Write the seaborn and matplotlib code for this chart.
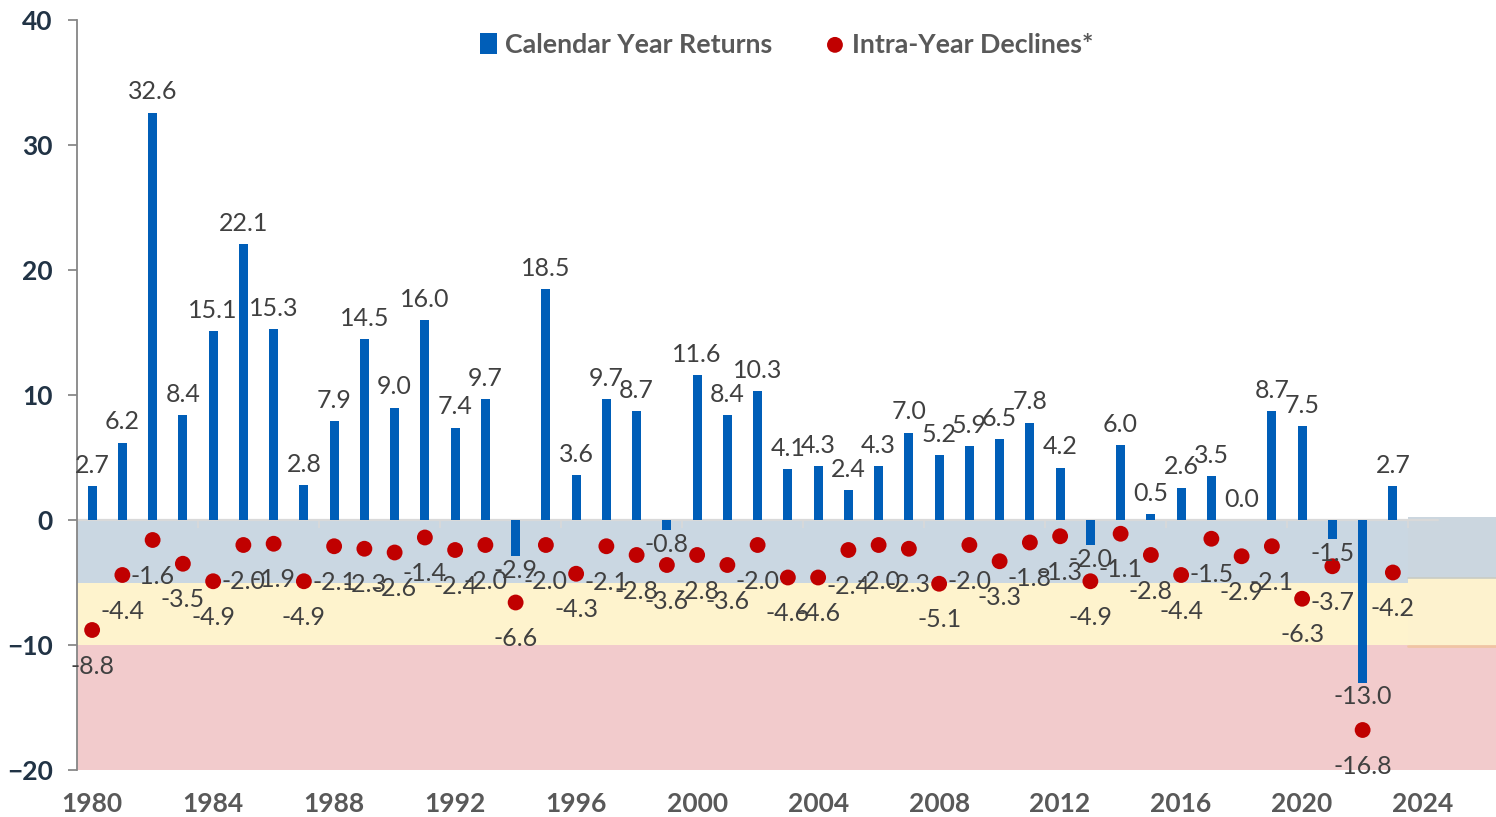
import numpy as np
import seaborn as sns
import matplotlib.pyplot as plt

# calendar year returns vs intra-year declines (%)
years = list(range(1980, 2024))
returns = [2.7, 6.2, 32.6, 8.4, 15.1, 22.1, 15.3, 2.8, 7.9, 14.5, 9.0, 16.0,
           7.4, 9.7, -2.9, 18.5, 3.6, 9.7, 8.7, -0.8, 11.6, 8.4, 10.3, 4.1,
           4.3, 2.4, 4.3, 7.0, 5.2, 5.9, 6.5, 7.8, 4.2, -2.0, 6.0, 0.5,
           2.6, 3.5, 0.0, 8.7, 7.5, -1.5, -13.0, 2.7]
declines = [-8.8, -4.4, -1.6, -3.5, -4.9, -2.0, -1.9, -4.9, -2.1, -2.3, -2.6, -1.4,
            -2.4, -2.0, -6.6, -2.0, -4.3, -2.1, -2.8, -3.6, -2.8, -3.6, -2.0, -4.6,
            -4.6, -2.4, -2.0, -2.3, -5.1, -2.0, -3.3, -1.8, -1.3, -4.9, -1.1, -2.8,
            -4.4, -1.5, -2.9, -2.1, -6.3, -3.7, -16.8, -4.2]
year_ticks = list(range(1980, 2025, 4))
y_ticks = list(range(-20, 41, 10))

# shaded zones (upper, lower)
zones = [(0, -5, '#CAD7E2'), (-5, -10, '#FEF3CD'), (-10, -20, '#F2CBCC')]
zones_right = [(0.25, -4.6, '#CBD6DF'), (-4.6, -10.1, '#FDF2CE'), (-10.1, -20, '#F2CBCC')]

BLUE = '#005EB8'
RED = '#C00000'

sns.set_style('white')
plt.rcParams['font.family'] = ['Lato', 'DejaVu Sans']

fig = plt.figure(figsize=(14.96, 8.17), dpi=100)
ax = fig.add_axes([77 / 1496, 47 / 817, 1419 / 1496, 750 / 817])

x_left = years[0] - 0.5
x_right = x_left + 1419 / 30.25
x_split = years[-1] + 0.5

for top, bottom, c in zones:
    ax.fill_between([x_left, x_split], bottom, top, color=c, lw=0, zorder=0)
for top, bottom, c in zones_right:
    ax.fill_between([x_split, x_right], bottom, top, color=c, lw=0, zorder=0)
ax.axhline(-4.6, xmin=(x_split - x_left) / (x_right - x_left), color='#C9CCC4', lw=1.2, zorder=0.5)
ax.axhline(-10.1, xmin=(x_split - x_left) / (x_right - x_left), color='#F0C4A4', lw=2, zorder=0.5)

# category axis line at zero
ax.axhline(0, xmax=(x_split + 1 - x_left) / (x_right - x_left), color='#D9D9D9', lw=1.6, zorder=1)
ax.vlines(np.arange(years[0] + 3.5, x_split + 1, 4), 0, -0.65, color='#D9D9D9', lw=1.2, zorder=1)

sns.barplot(x=years, y=returns, native_scale=True, width=0.3, color=BLUE,
            saturation=1, linewidth=0, ax=ax, label='Calendar Year Returns', zorder=2)
sns.scatterplot(x=years, y=declines, color=RED, s=130, edgecolor='none',
                ax=ax, label='Intra-Year Declines*', zorder=3)

lbl = dict(fontsize=18, color='#404040', ha='center', textcoords='offset points', zorder=4)
for yr, v in zip(years, returns):
    if v >= 0:
        ax.annotate(f'{v:.1f}', (yr, v), xytext=(0, 9.5), va='baseline', **lbl)
    else:
        ax.annotate(f'{v:.1f}', (yr, v), xytext=(0, -2), va='top', **lbl)
for yr, v in zip(years, declines):
    ax.annotate(f'{v:.1f}', (yr, v), xytext=(0, -26), va='center', **lbl)

ax.set_xlim(x_left, x_right)
ax.set_ylim(-20, 40)
ax.set_xticks(year_ticks)
ax.set_xticklabels([str(y) for y in year_ticks])
ax.set_yticks(y_ticks)
ax.tick_params(axis='x', length=0, pad=16, labelsize=19, labelcolor='#595959')
ax.tick_params(axis='y', left=True, length=6.5, width=1.2, color='#7F7F7F', pad=11,
               labelsize=19, labelcolor='#213345')
for t in ax.get_xticklabels() + ax.get_yticklabels():
    t.set_fontweight('bold')

for s in ['top', 'right', 'bottom']:
    ax.spines[s].set_visible(False)
ax.spines['left'].set_color('#868686')
ax.spines['left'].set_linewidth(1.3)
ax.set_xlabel('')
ax.set_ylabel('')

handles, labels = ax.get_legend_handles_labels()
order = [labels.index('Calendar Year Returns'), labels.index('Intra-Year Declines*')]
ax.legend([handles[i] for i in order], [labels[i] for i in order],
          loc='upper center', bbox_to_anchor=(0.5, 1.015), ncol=2, frameon=False,
          handlelength=0.65, handleheight=0.85, handletextpad=0.3, columnspacing=2.0,
          prop=dict(weight='bold', size=19.3), labelcolor='#595959')

fig.savefig('out.png', dpi=100)
